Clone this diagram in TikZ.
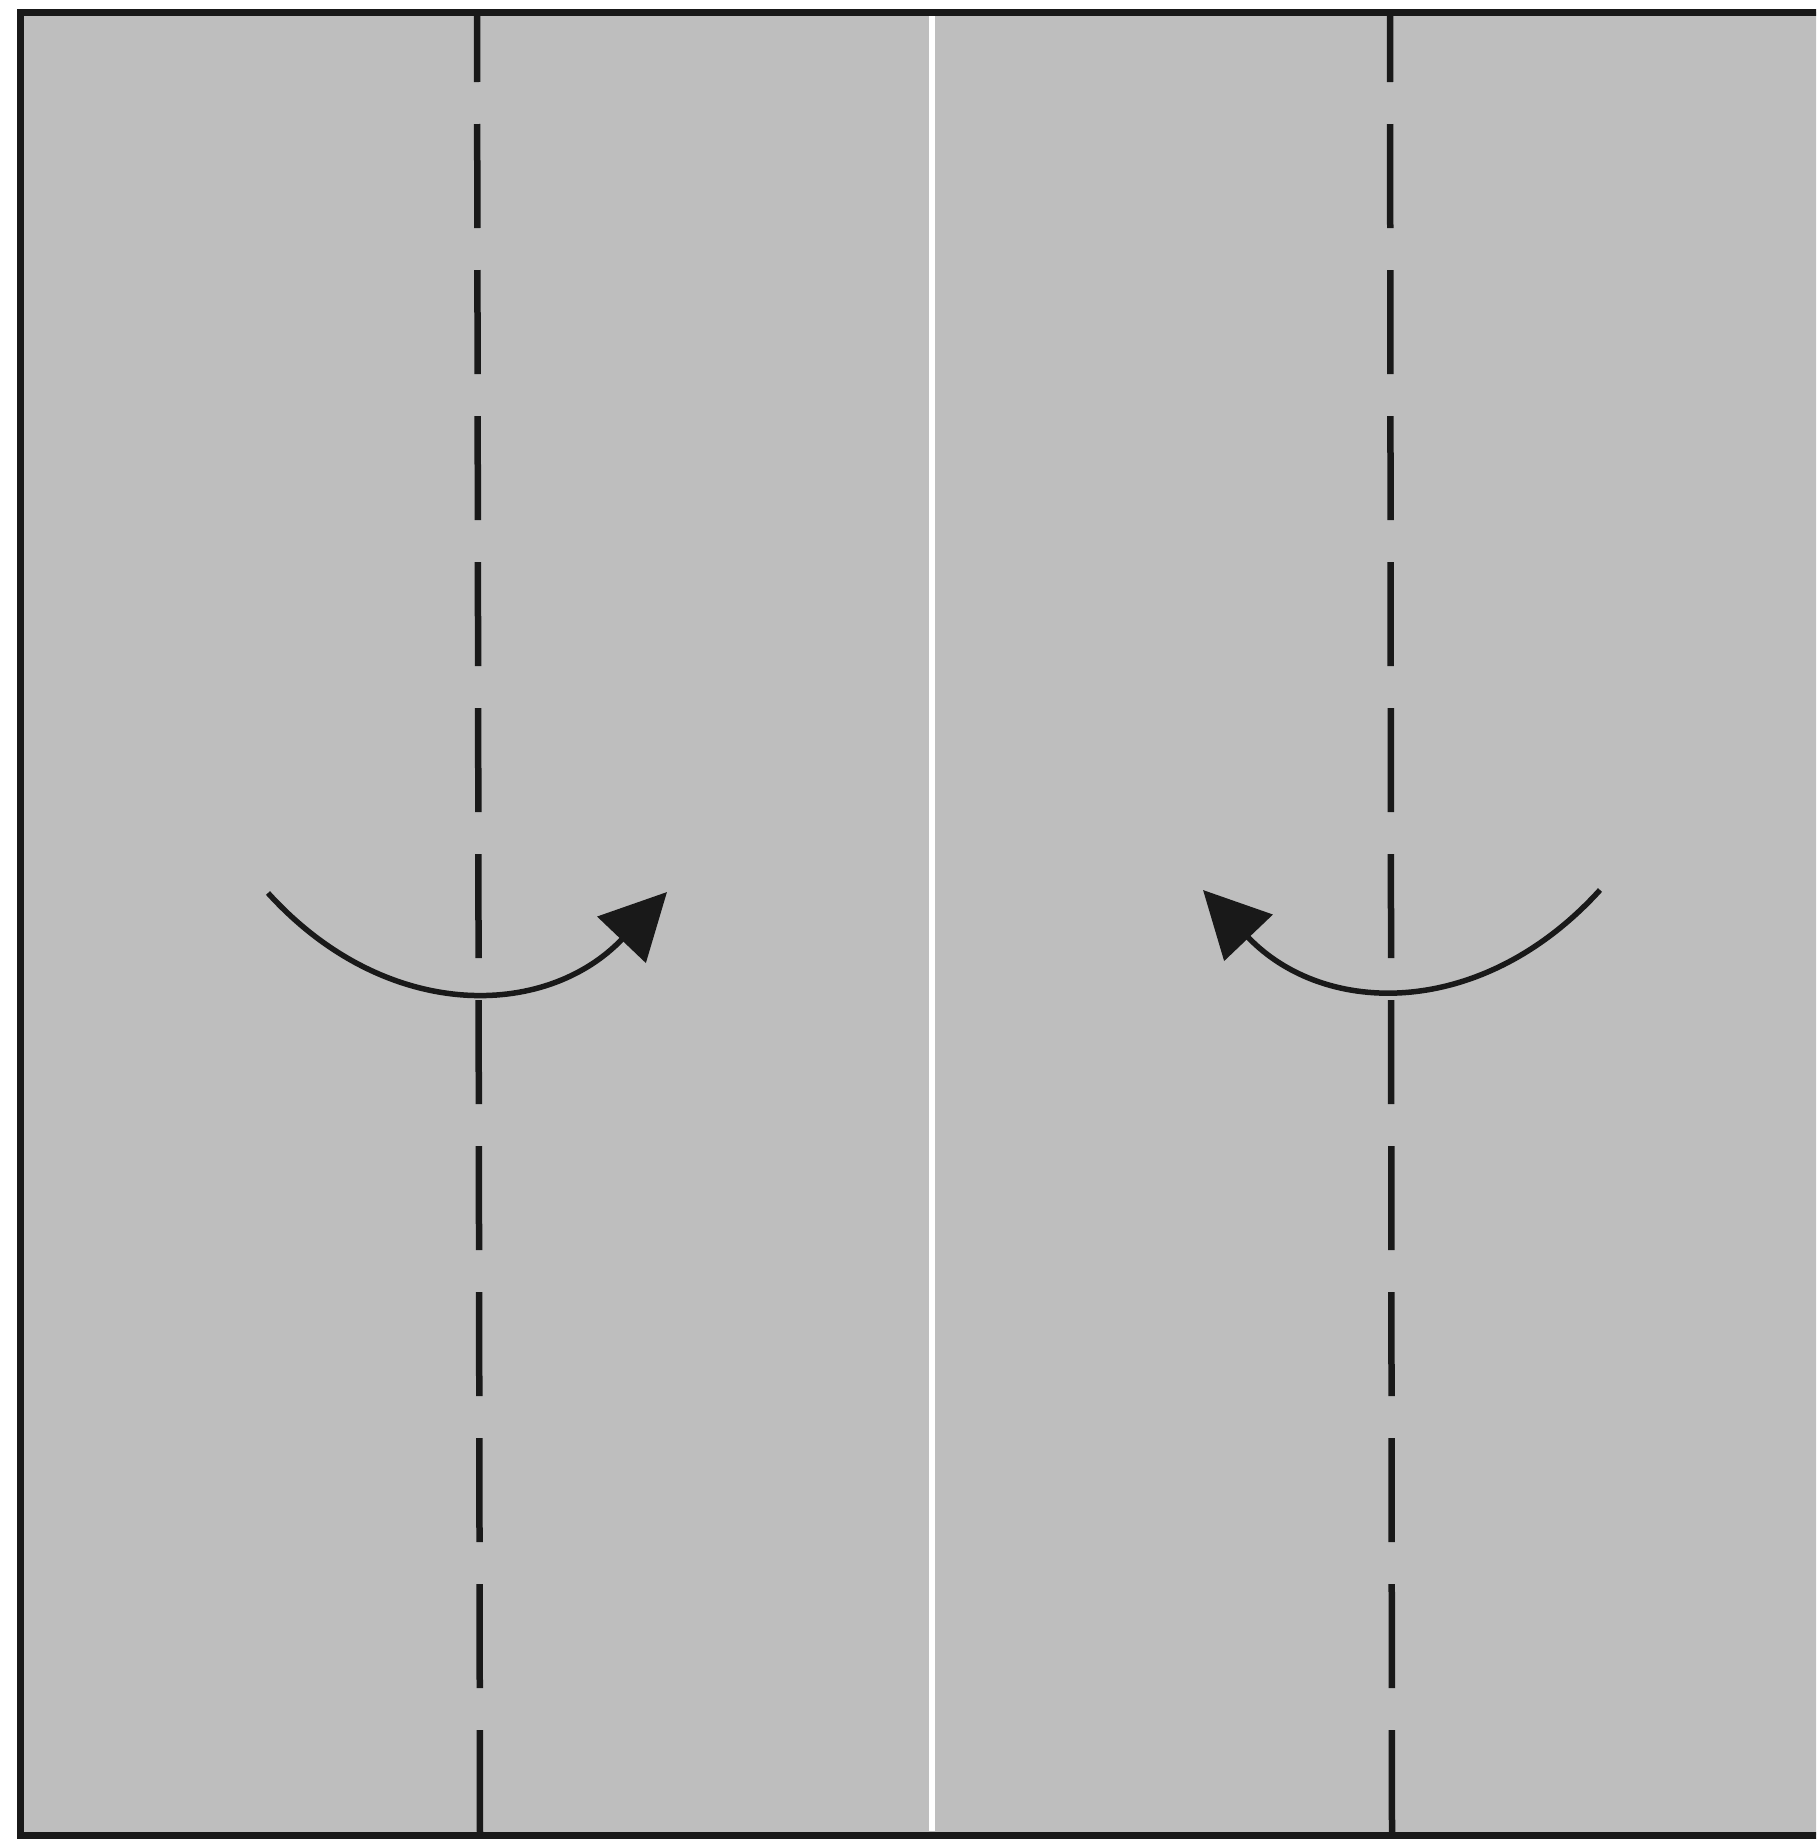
\documentclass[tikz,border=0pt]{standalone}
\usepackage{tikz}
\usetikzlibrary{arrows.meta,calc}
\definecolor{papergray}{RGB}{190, 190, 190}
\definecolor{edgeblack}{RGB}{25, 25, 25}

\begin{document}
\begin{tikzpicture}[x=1pt, y=-1pt,
    valley/.style={edgeblack, line width=6.5pt, dash pattern=on 104pt off 42pt, dash phase=34pt},
    turnarrow/.style={edgeblack, line width=5.5pt, -{Triangle[length=66pt, width=66pt]}}]
    \useasboundingbox (0,0) rectangle (1816,1842);
    \fill [white] (0,0) rectangle (1816,1842);
    \clip (0,0) rectangle (1816,1842);

    \fill [papergray] (20,12) rectangle (1830,1835);
    \draw [edgeblack, line width=7pt] (1830,12) -- (20,12) -- (20,1835) -- (1830,1835);
    \draw [white, line width=6pt] (932,16) -- (932,1831);

    \draw [valley] (477,12) -- (480,1835);
    \draw [valley] (1390,12) -- (1392,1835);

    \coordinate (lfrom) at (268,893);
    \coordinate (lto) at (667,892);
    \coordinate (rfrom) at (1600,890);
    \coordinate (rto) at (1203,890);

    \draw [turnarrow] (lfrom) .. controls (385,1022) and (545,1020) .. (lto);
    \draw [turnarrow] (rfrom) .. controls (1483,1019) and (1325,1018) .. (rto);
\end{tikzpicture}
\end{document}
